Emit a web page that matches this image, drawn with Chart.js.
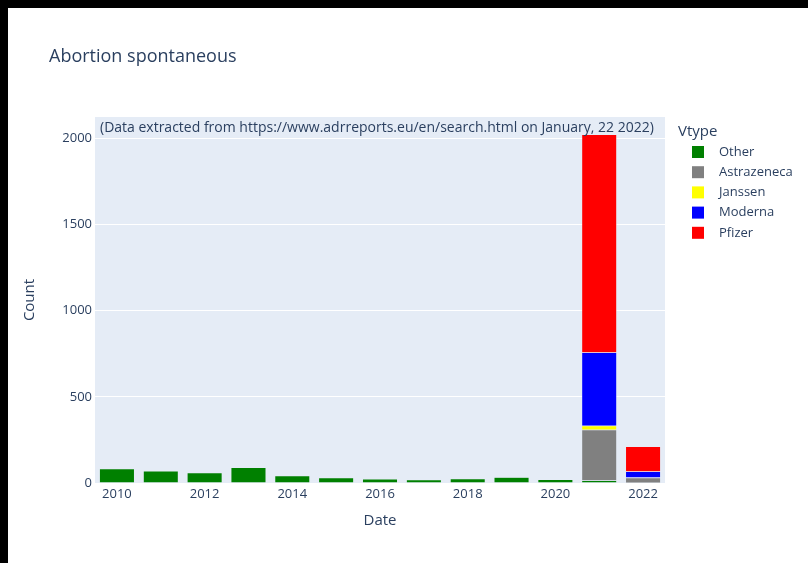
<!DOCTYPE html>
<html>
<head>
<meta charset="utf-8">
<script src="https://cdn.jsdelivr.net/npm/chart.js@4.4.1/dist/chart.umd.min.js"></script>
<style>
html, body { margin: 0; padding: 0; background: #000; }
#wrap { position: absolute; left: 8px; top: 8px; width: 800px; height: 555px; background: #fff; }
</style>
</head>
<body>
<div id="wrap"><canvas id="chart" width="800" height="555"></canvas></div>
<script>
// categories (years) and one array per vaccine type
const years = ['2010', '2011', '2012', '2013', '2014', '2015', '2016', '2017', '2018', '2019', '2020', '2021', '2022'];
const other       = [83, 70, 60, 90, 42, 31, 23, 19, 25, 33, 21, 15, 2];
const astrazeneca = [0, 0, 0, 0, 0, 0, 0, 0, 0, 0, 0, 294, 28];
const janssen     = [0, 0, 0, 0, 0, 0, 0, 0, 0, 0, 0, 23, 2];
const moderna     = [0, 0, 0, 0, 0, 0, 0, 0, 0, 0, 0, 425, 35];
const pfizer      = [0, 0, 0, 0, 0, 0, 0, 0, 0, 0, 0, 1265, 145];
const yTicks = [0, 500, 1000, 1500, 2000];

const txtColor = '#2a3f5f';
const fontFam = '"Open Sans", verdana, arial, sans-serif';

const series = [
    { label: 'Other', data: other, color: 'green' },
    { label: 'Astrazeneca', data: astrazeneca, color: 'gray' },
    { label: 'Janssen', data: janssen, color: 'yellow' },
    { label: 'Moderna', data: moderna, color: 'blue' },
    { label: 'Pfizer', data: pfizer, color: 'red' }
];

// plot background (plotly style)
const plotBg = {
    id: 'plotBg',
    beforeDraw(chart) {
        const { ctx, chartArea: a } = chart;
        ctx.save();
        ctx.fillStyle = '#E5ECF6';
        ctx.fillRect(a.left, a.top, a.right - a.left, a.bottom - a.top);
        ctx.restore();
    }
};

// title, note and legend
const extras = {
    id: 'extras',
    afterDraw(chart) {
        const ctx = chart.ctx;
        ctx.save();
        ctx.fillStyle = txtColor;
        ctx.textBaseline = 'middle';
        ctx.textAlign = 'left';

        ctx.font = '18px ' + fontFam;
        ctx.fillText('Abortion spontaneous', 41, 49);

        ctx.font = '14px ' + fontFam;
        ctx.fillText('(Data extracted from https://www.adrreports.eu/en/search.html on January, 22 2022)', 92, 120);

        ctx.font = '15px ' + fontFam;
        ctx.fillText('Vtype', 670, 124);

        ctx.font = '13px ' + fontFam;
        series.forEach((s, i) => {
            const y = 144 + i * 20.2;
            ctx.fillStyle = s.color;
            ctx.fillRect(684, y - 6, 12, 12);
            ctx.fillStyle = txtColor;
            ctx.fillText(s.label, 711, y);
        });
        ctx.restore();
    }
};

new Chart(document.getElementById('chart'), {
    type: 'bar',
    data: {
        labels: years,
        datasets: series.map(s => ({
            label: s.label,
            data: s.data,
            backgroundColor: s.color,
            borderColor: '#E5ECF6',
            borderWidth: 0.5,
            barPercentage: 0.8,
            categoryPercentage: 1.0
        }))
    },
    options: {
        responsive: false,
        animation: false,
        layout: { padding: { top: 109, right: 143, left: 0, bottom: 0 } },
        plugins: {
            legend: { display: false },
            tooltip: { enabled: false }
        },
        scales: {
            x: {
                stacked: true,
                offset: true,
                grid: { display: false, drawTicks: false },
                border: { display: false },
                ticks: {
                    color: txtColor,
                    font: { family: fontFam, size: 13 },
                    autoSkip: false,
                    maxRotation: 0,
                    padding: 3,
                    callback: (v, i) => (i % 2 === 0 ? years[i] : '')
                },
                title: {
                    display: true,
                    text: 'Date',
                    color: txtColor,
                    font: { family: fontFam, size: 15 },
                    padding: { top: 0, bottom: 33 }
                },
                afterFit: s => { s.height = 80; }
            },
            y: {
                stacked: true,
                min: 0,
                max: 2123,
                grid: { color: '#fff', lineWidth: 1, drawTicks: false },
                border: { display: false },
                afterBuildTicks: s => { s.ticks = yTicks.map(v => ({ value: v })); },
                ticks: {
                    color: txtColor,
                    font: { family: fontFam, size: 13 },
                    padding: 3,
                    callback: v => String(v)
                },
                title: {
                    display: true,
                    text: 'Count',
                    color: txtColor,
                    font: { family: fontFam, size: 15 },
                    padding: { top: 13, bottom: 0 }
                },
                afterFit: s => { s.width = 87; }
            }
        }
    },
    plugins: [plotBg, extras]
});
</script>
</body>
</html>
